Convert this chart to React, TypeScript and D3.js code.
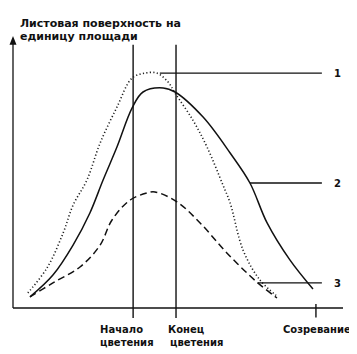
import React from "react";
import * as d3 from "d3";

type P = [number, number];

// Curve 1 (dotted), curve 2 (solid), curve 3 (dashed): [time, leaf area]
const curve1: P[] = [
  [4.5, 5.6], [10.3, 14.8], [15.2, 27.8], [18.2, 38.1], [22.4, 47.4], [26.4, 61.1],
  [31.5, 74.4], [36.1, 85.2], [40, 87], [43.6, 87], [47, 83.7], [49.1, 79.6],
  [54.5, 69.6], [58.8, 59.6], [63.6, 45.6], [65.8, 38.9], [69.7, 21.5], [74.8, 10.4], [80.3, 4.1],
];
const curve2: P[] = [
  [5.15, 4.1], [12.1, 12.2], [18.2, 23.3], [23.3, 35.2], [27.3, 47.4], [31.5, 59.6],
  [36.1, 74.1], [39.4, 80], [45.5, 81.5], [49.1, 80], [57.6, 70.7], [65.8, 57.4],
  [71.8, 46.3], [77, 31.5], [83.9, 17.8], [90.9, 7.0],
];
const curve3: P[] = [
  [5.15, 4.1], [12.1, 9.3], [20.3, 15.2], [26.4, 23.3], [30, 32.6], [35.5, 40],
  [40.6, 42.6], [43, 43], [49.7, 39.3], [56.7, 31.5], [64.8, 20.4], [73.9, 9.6], [80, 3.7],
];

const phaseX = [36.4, 49.4];
const phaseLabels = [["Начало", "цветения"], ["Конец", "цветения"]];
const maturityX = 91.8;
const maturityLabel = "Созревание";

const seriesLabels = ["1", "2", "3"];
const leaderStart: P[] = [[44.5, 87], [71.8, 46.3], [74.2, 9.3]];
const leaderEndX = 93.6;

const titleLines = ["Листовая поверхность на", "единицу площади"];

export default function App() {
  const W = 357, H = 354;
  const x = d3.scaleLinear().domain([0, 100]).range([13 - 8, 343 - 8]);
  const y = d3.scaleLinear().domain([0, 100]).range([308 - 8, 38 - 8]);
  const line = d3
    .line<P>()
    .x((d) => x(d[0]))
    .y((d) => y(d[1]))
    .curve(d3.curveCatmullRom.alpha(0.5));

  const font = "'DejaVu Sans', Verdana, sans-serif";
  const x0 = x(0), y0 = y(0);

  return (
    <svg width={W - 8} height={H - 8} style={{ display: "block", overflow: "visible" }}>
      <g fontFamily={font} fontWeight="bold" fill="#111">
        {titleLines.map((t, i) => (
          <text key={t} x={x(2.1)} y={y(103.9) + i * 12.5} fontSize={11}>
            {t}
          </text>
        ))}
      </g>
      {/* axes */}
      <line x1={x0} y1={y0} x2={x0} y2={y(99)} stroke="#111" strokeWidth={1.3} />
      <path
        d={`M${x0},${y(100.7)} L${x0 - 3.5},${y(97.5)} L${x0 + 3.5},${y(97.5)} Z`}
        fill="#111"
      />
      <line x1={x0} y1={y0} x2={x(100)} y2={y0} stroke="#111" strokeWidth={1.3} />

      {/* phase verticals */}
      {phaseX.map((px) => (
        <line key={px} x1={x(px)} x2={x(px)} y1={y(97.5)} y2={y(-3.7)} stroke="#111" strokeWidth={1.4} />
      ))}
      <line x1={x(maturityX)} x2={x(maturityX)} y1={y(1.5)} y2={y(-3.5)} stroke="#111" strokeWidth={1.4} />

      {/* curves */}
      <path d={line(curve1) ?? ""} fill="none" stroke="#222" strokeWidth={1.6} strokeDasharray="1.2 2.3" />
      <path d={line(curve2) ?? ""} fill="none" stroke="#111" strokeWidth={1.5} />
      <path d={line(curve3) ?? ""} fill="none" stroke="#111" strokeWidth={1.5} strokeDasharray="7 4" />

      {/* leaders and series labels */}
      {leaderStart.map((s, i) => (
        <g key={i}>
          <line x1={x(s[0])} x2={x(leaderEndX)} y1={y(s[1])} y2={y(s[1])} stroke="#111" strokeWidth={1.4} />
          <text x={x(97.3)} y={y(s[1]) + 4} fontSize={10} fontWeight="bold" fontFamily={font} fill="#111">
            {seriesLabels[i]}
          </text>
        </g>
      ))}

      {/* bottom labels */}
      <g fontFamily={font} fontWeight="bold" fontSize={10} fill="#111">
        {phaseLabels.map((lbl, i) => (
          <g key={i}>
            <text x={x(phaseX[i]) + (i === 0 ? -33 : -8)} y={y(-9.3)}>{lbl[0]}</text>
            <text x={x(phaseX[i]) + (i === 0 ? -33 : -6)} y={y(-13.9)}>{lbl[1]}</text>
          </g>
        ))}
        <text x={x(81.8)} y={y(-9.3)}>{maturityLabel}</text>
      </g>
    </svg>
  );
}
